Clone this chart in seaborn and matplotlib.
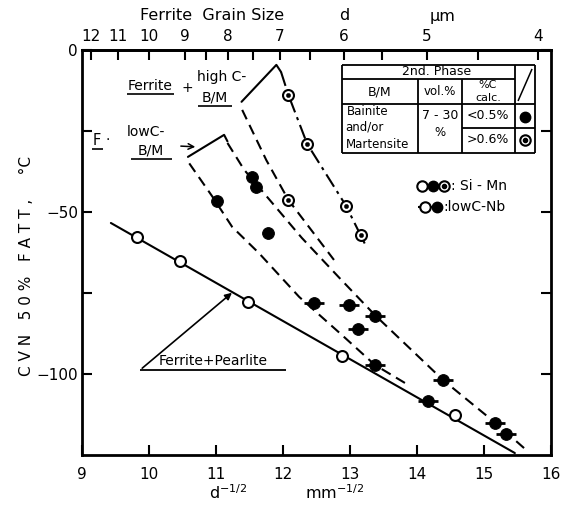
import numpy as np
import pandas as pd
import matplotlib
matplotlib.use("Agg")
import matplotlib.pyplot as plt
import seaborn as sns

# ---------------- data ----------------
# x: d^-1/2 (mm^-1/2), y: CVN 50% FATT (deg C)
open_x = [9.82, 10.46, 11.47, 12.88, 14.57]          # Si-Mn, ferrite+pearlite
open_y = [-57.7, -65.1, -77.8, -94.4, -112.7]
fill_x = [11.02, 11.54, 11.59, 11.78]                 # Si-Mn, low C B/M
fill_y = [-46.6, -39.2, -42.2, -56.5]
nb_x = [12.46, 12.98, 13.37, 13.12, 13.37, 14.17, 14.39, 15.17, 15.33]   # low C-Nb
nb_y = [-78.1, -78.7, -82.1, -86.1, -97.2, -108.3, -101.9, -115.1, -118.5]
dbl_x = [12.08, 12.36, 12.08, 12.94, 13.16]           # high C B/M
dbl_y = [-13.9, -29.0, -46.3, -48.1, -57.1]

fp_x = [9.43, 15.46]                                  # Ferrite + Pearlite line
fp_y = [-53.4, -124.4]
hc_right_x = [11.97, 12.08, 12.36, 12.94, 13.23]      # high C band, dash-dot
hc_right_y = [-6.8, -13.9, -29.0, -48.1, -60.2]
hc_left_x = [11.39, 11.75, 12.08, 12.76]              # high C band, dashed
hc_left_y = [-18.5, -34.0, -46.3, -64.8]
lc_right_x = [11.17, 11.42, 12.28, 12.83, 13.37, 14.39, 15.17, 15.61]
lc_right_y = [-28.7, -37.0, -58.0, -70.1, -81.8, -101.9, -115.1, -123.1]
lc_left_x = [10.60, 10.95, 11.24, 11.64, 12.24, 12.88, 13.37, 13.87]
lc_left_y = [-35.0, -45.4, -54.6, -62.7, -76.2, -88.0, -97.2, -103.4]
hc_bracket_x = [11.38, 11.90, 11.97]
hc_bracket_y = [-16.0, -4.6, -6.8]
lc_bracket_x = [10.58, 11.12, 11.17]
lc_bracket_y = [-33.0, -26.2, -28.2]

x_ticks = [9, 10, 11, 12, 13, 14, 15, 16]
y_ticks = [0, -50, -100]
y_minor = [-25, -75]
d_ticks = [12, 11, 10, 9, 8, 7, 6, 5, 4]
d_minor = [8.5, 7.5, 6.5, 5.5, 4.5]

# ---------------- figure ----------------
sns.set_style("ticks")
plt.rcParams['font.family'] = ['DejaVu Sans']
plt.rcParams['mathtext.default'] = 'regular'
for key in ['text.color', 'axes.labelcolor', 'xtick.color', 'ytick.color', 'axes.edgecolor']:
    plt.rcParams[key] = 'black'

fig = plt.figure(figsize=(5.74, 5.21), dpi=100)
ax = fig.add_axes([0.143, 0.1267, 0.817, 0.7774])
ax.set_xlim(9, 16)
ax.set_ylim(-125, 0)

K = 'black'
LW = 1.5

def line(xs, ys, ls):
    sns.lineplot(x=xs, y=ys, sort=False, estimator=None, color=K, lw=LW,
                 linestyle=ls, ax=ax)

line(fp_x, fp_y, '-')
line(hc_right_x, hc_right_y, (0, (7, 2.5, 1.5, 2.5)))
line(hc_left_x, hc_left_y, (0, (5, 3)))
line(lc_right_x, lc_right_y, (0, (5, 3)))
line(lc_left_x, lc_left_y, (0, (5, 3)))
line(hc_bracket_x, hc_bracket_y, '-')
line(lc_bracket_x, lc_bracket_y, '-')

# markers
sns.scatterplot(x=nb_x, y=nb_y, marker='_', s=220, linewidth=2.0, color=K, ax=ax, zorder=4)
sns.scatterplot(x=nb_x, y=nb_y, marker='o', s=72, color=K, edgecolor=K, ax=ax, zorder=5)
sns.scatterplot(x=fill_x, y=fill_y, marker='o', s=72, color=K, edgecolor=K, ax=ax, zorder=5)
sns.scatterplot(x=open_x, y=open_y, marker='o', s=62, facecolor='white', edgecolor=K,
                linewidth=1.5, ax=ax, zorder=5)
sns.scatterplot(x=dbl_x, y=dbl_y, marker='o', s=62, facecolor='white', edgecolor=K,
                linewidth=1.5, ax=ax, zorder=5)
sns.scatterplot(x=dbl_x, y=dbl_y, marker='o', s=10, color=K, edgecolor=K, ax=ax, zorder=6)

# axes styling
for s in ax.spines.values():
    s.set_linewidth(2.0)
    s.set_visible(True)
ax.set_xticks(x_ticks)
ax.set_yticks(y_ticks)
ax.set_yticks(y_minor, minor=True)
ax.tick_params(axis='both', which='both', direction='in', length=7, width=1.5,
               labelsize=11, top=False, right=True)
ax.tick_params(axis='x', pad=9)
ax.tick_params(axis='y', pad=3)
ax.set_xlabel('')
ax.set_ylabel('')

def to_d(x):
    x = np.asarray(x, dtype=float)
    with np.errstate(divide='ignore', invalid='ignore'):
        return 1000.0 / np.where(x > 0, x, np.nan) ** 2

def from_d(d):
    d = np.asarray(d, dtype=float)
    with np.errstate(divide='ignore', invalid='ignore'):
        return np.sqrt(1000.0 / np.where(d > 0, d, np.nan))

sec = ax.secondary_xaxis('top', functions=(to_d, from_d))
sec.set_xticks(d_ticks)
sec.set_xticklabels([str(v) for v in d_ticks])
sec.set_xticks(d_minor, minor=True)
sec.tick_params(axis='x', which='both', direction='in', length=7, width=1.5,
                labelsize=11, pad=4)
sec.spines['top'].set_linewidth(2.0)

# ---------------- annotation helpers (pixel layout) ----------------
def A(px, py):
    return ((px - 82) / 469.0, (455 - py) / 405.0)

def seg(x0, y0, x1, y1, lw=1.3):
    (a, b), (c, d) = A(x0, y0), A(x1, y1)
    ax.plot([a, c], [b, d], transform=ax.transAxes, color=K, lw=lw,
            clip_on=False, solid_capstyle='butt')

def txt(px, py, s, size=10, ha='center', **kw):
    ax.text(*A(px, py), s, transform=ax.transAxes, fontsize=size, ha=ha,
            va='center', **kw)

def mk(px, py, kind, ms=8):
    a, b = A(px, py)
    if kind == 'open':
        ax.plot(a, b, 'o', ms=ms, mfc='white', mec=K, mew=1.5, transform=ax.transAxes, clip_on=False, zorder=7)
    elif kind == 'fill':
        ax.plot(a, b, 'o', ms=ms, mfc=K, mec=K, transform=ax.transAxes, clip_on=False, zorder=7)
    else:
        ax.plot(a, b, 'o', ms=ms, mfc='white', mec=K, mew=1.5, transform=ax.transAxes, clip_on=False, zorder=7)
        ax.plot(a, b, 'o', ms=3, mfc=K, mec=K, transform=ax.transAxes, clip_on=False, zorder=8)

# band labels
txt(150, 86, 'Ferrite', 10)
seg(127, 94, 174, 94, 1.2)
txt(187, 88, '+', 10)
txt(222, 77, 'high C-', 10)
txt(215, 98, 'B/M', 10)
seg(198, 106, 232, 106, 1.2)

txt(97, 141, 'F', 10.5)
seg(92, 149, 103, 149, 1.2)
txt(108, 140, '·', 10)
txt(146, 132, 'lowC-', 10)
txt(151, 151, 'B/M', 10)
seg(131, 159, 172, 159, 1.2)
ax.annotate('', xy=A(198, 147), xytext=A(178, 146), xycoords='axes fraction',
            textcoords='axes fraction',
            arrowprops=dict(arrowstyle='->', color=K, lw=1.1))

txt(213, 361, 'Ferrite+Pearlite', 10)
seg(140, 370, 286, 370, 1.3)
ax.annotate('', xy=A(234, 291), xytext=A(140, 370), xycoords='axes fraction',
            textcoords='axes fraction',
            arrowprops=dict(arrowstyle='-|>', color=K, lw=1.2, mutation_scale=10))

# table
seg(342, 65, 535, 65); seg(342, 153, 535, 153)
seg(342, 65, 342, 153); seg(535, 65, 535, 153)
seg(342, 79, 515, 79); seg(342, 104, 535, 104)
seg(462, 128, 535, 128)
seg(418, 79, 418, 153); seg(462, 79, 462, 153); seg(515, 65, 515, 153)
seg(518, 101, 532, 69, 1.1)
txt(437, 72, '2nd. Phase', 9)
txt(380, 92, 'B/M', 9)
txt(440, 92, 'vol.%', 8.5)
txt(488, 85, '%C', 8)
txt(488, 98, 'calc.', 8)
txt(347, 112, 'Bainite', 8.5, ha='left')
txt(345, 127, 'and/or', 8.5, ha='left')
txt(346, 145, 'Martensite', 8.5, ha='left')
txt(440, 116, '7 - 30', 9)
txt(440, 133, '%', 8.5)
txt(488, 116, '<0.5%', 9)
txt(488, 140, '>0.6%', 9)
mk(525, 117, 'fill', 7.5)
mk(525, 140, 'dbl', 7.5)

# legend
mk(422, 186, 'open', 7.5)
mk(433, 186, 'fill', 7.5)
mk(444, 186, 'dbl', 7.5)
txt(451, 186, ': Si - Mn', 10, ha='left')
seg(418, 207, 443, 207, 1.5)
mk(425, 207, 'open', 7.5)
mk(437, 207, 'fill', 7.5)
txt(443, 207, ':lowC-Nb', 10, ha='left')

# axis titles
fig.text(140 / 574, 1 - 16 / 521, 'Ferrite  Grain Size', fontsize=11.5, ha='left', va='center')
fig.text(344 / 574, 1 - 16 / 521, 'd', fontsize=11.5, ha='center', va='center')
fig.text(443 / 574, 1 - 16 / 521, 'μm', fontsize=11.5, ha='center', va='center')
fig.text(27 / 574, 1 - 266 / 521, 'C V N   5 0 %   F A T T ,     °C', fontsize=11,
         rotation=90, ha='center', va='center')
fig.text(228 / 574, 1 - 493 / 521, r'd$^{-1/2}$', fontsize=11.5, ha='center', va='center')
fig.text(335 / 574, 1 - 493 / 521, r'mm$^{-1/2}$', fontsize=11.5, ha='center', va='center')

fig.savefig('out.png', dpi=100)
